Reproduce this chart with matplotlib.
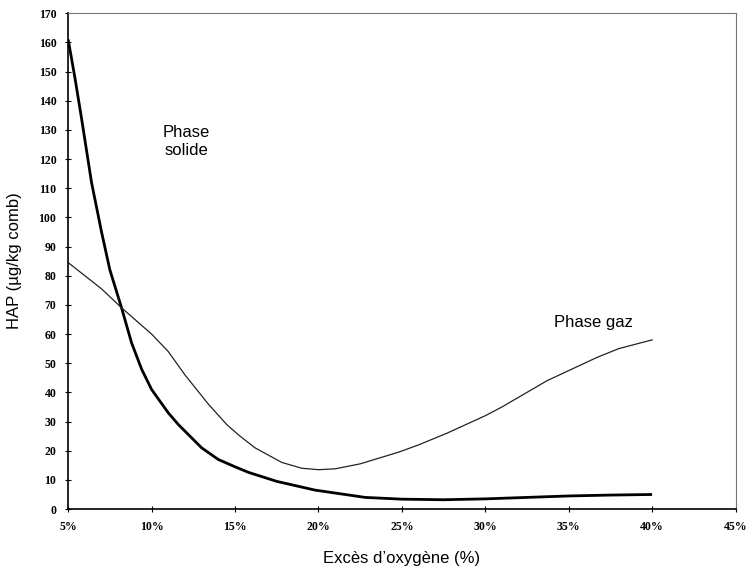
import numpy as np
from matplotlib import pyplot as plt

# valeurs (exces d'oxygene en %, HAP en ug/kg comb)
x_solide = [5, 5.4, 5.8, 6.4, 7, 7.5, 8.2, 8.8, 9.4, 10, 11, 11.6, 12.3, 13, 14, 15,
            15.8, 17.5, 19.8, 22.8, 25, 27.5, 30, 32.5, 35, 37.5, 40]
y_solide = [161, 148, 134, 112, 95, 82, 69, 57, 48, 41, 33, 29, 25, 21, 17, 14.5,
            12.6, 9.5, 6.5, 4, 3.4, 3.2, 3.5, 4, 4.5, 4.8, 5]

x_gaz = [5, 6, 7, 8.2, 9, 10, 11, 12, 13.4, 14.5, 15.3, 16.2, 17.8, 19, 20, 21, 22.5,
         24.8, 26, 27.7, 30, 31, 33.7, 36.7, 38, 40]
y_gaz = [84.5, 80, 75.5, 69, 65, 60, 54, 46, 36, 29, 25, 21, 16, 14, 13.5, 13.8, 15.5,
         19.5, 22, 26, 32, 35, 44, 52, 55, 58]

xticks = [5, 10, 15, 20, 25, 30, 35, 40, 45]
yticks = list(range(0, 171, 10))

fig = plt.figure(figsize=(7.49, 5.72), dpi=100)
ax = fig.add_axes([0.091, 0.110, 0.891, 0.867])

ax.plot(x_solide, y_solide, color='black', linewidth=2.0, solid_capstyle='butt',
        solid_joinstyle='round')
ax.plot(x_gaz, y_gaz, color='#222222', linewidth=0.9, solid_joinstyle='round')

ax.set_xlim(5, 45)
ax.set_ylim(0, 170)
ax.set_xticks(xticks)
ax.set_xticklabels([str(t) + '%' for t in xticks])
ax.set_yticks(yticks)

for lab in ax.get_xticklabels() + ax.get_yticklabels():
    lab.set_fontfamily('Liberation Serif')
    lab.set_fontweight('bold')
    lab.set_fontsize(8.5)

ax.tick_params(axis='both', direction='inout', length=5, width=0.8)
ax.tick_params(axis='x', pad=6)
ax.tick_params(axis='y', pad=6)

ax.spines['left'].set_linewidth(1.2)
ax.spines['bottom'].set_linewidth(1.2)
for s in ['top', 'right']:
    ax.spines[s].set_color('#777777')
    ax.spines[s].set_linestyle((0, (2, 1)))
    ax.spines[s].set_linewidth(0.8)

ax.set_xlabel("Excès d’oxygène (%)", fontfamily='Liberation Sans', fontsize=12, labelpad=13)
ax.set_ylabel("HAP (µg/kg comb)", fontfamily='Liberation Sans', fontsize=12, labelpad=12)

ax.text(12.1, 126, "Phase\nsolide", ha='center', va='center', fontfamily='Liberation Sans',
        fontsize=12, linespacing=1.3)
ax.text(36.5, 64, "Phase gaz", ha='center', va='center', fontfamily='Liberation Sans',
        fontsize=12)

plt.savefig('out.png', dpi=100)
